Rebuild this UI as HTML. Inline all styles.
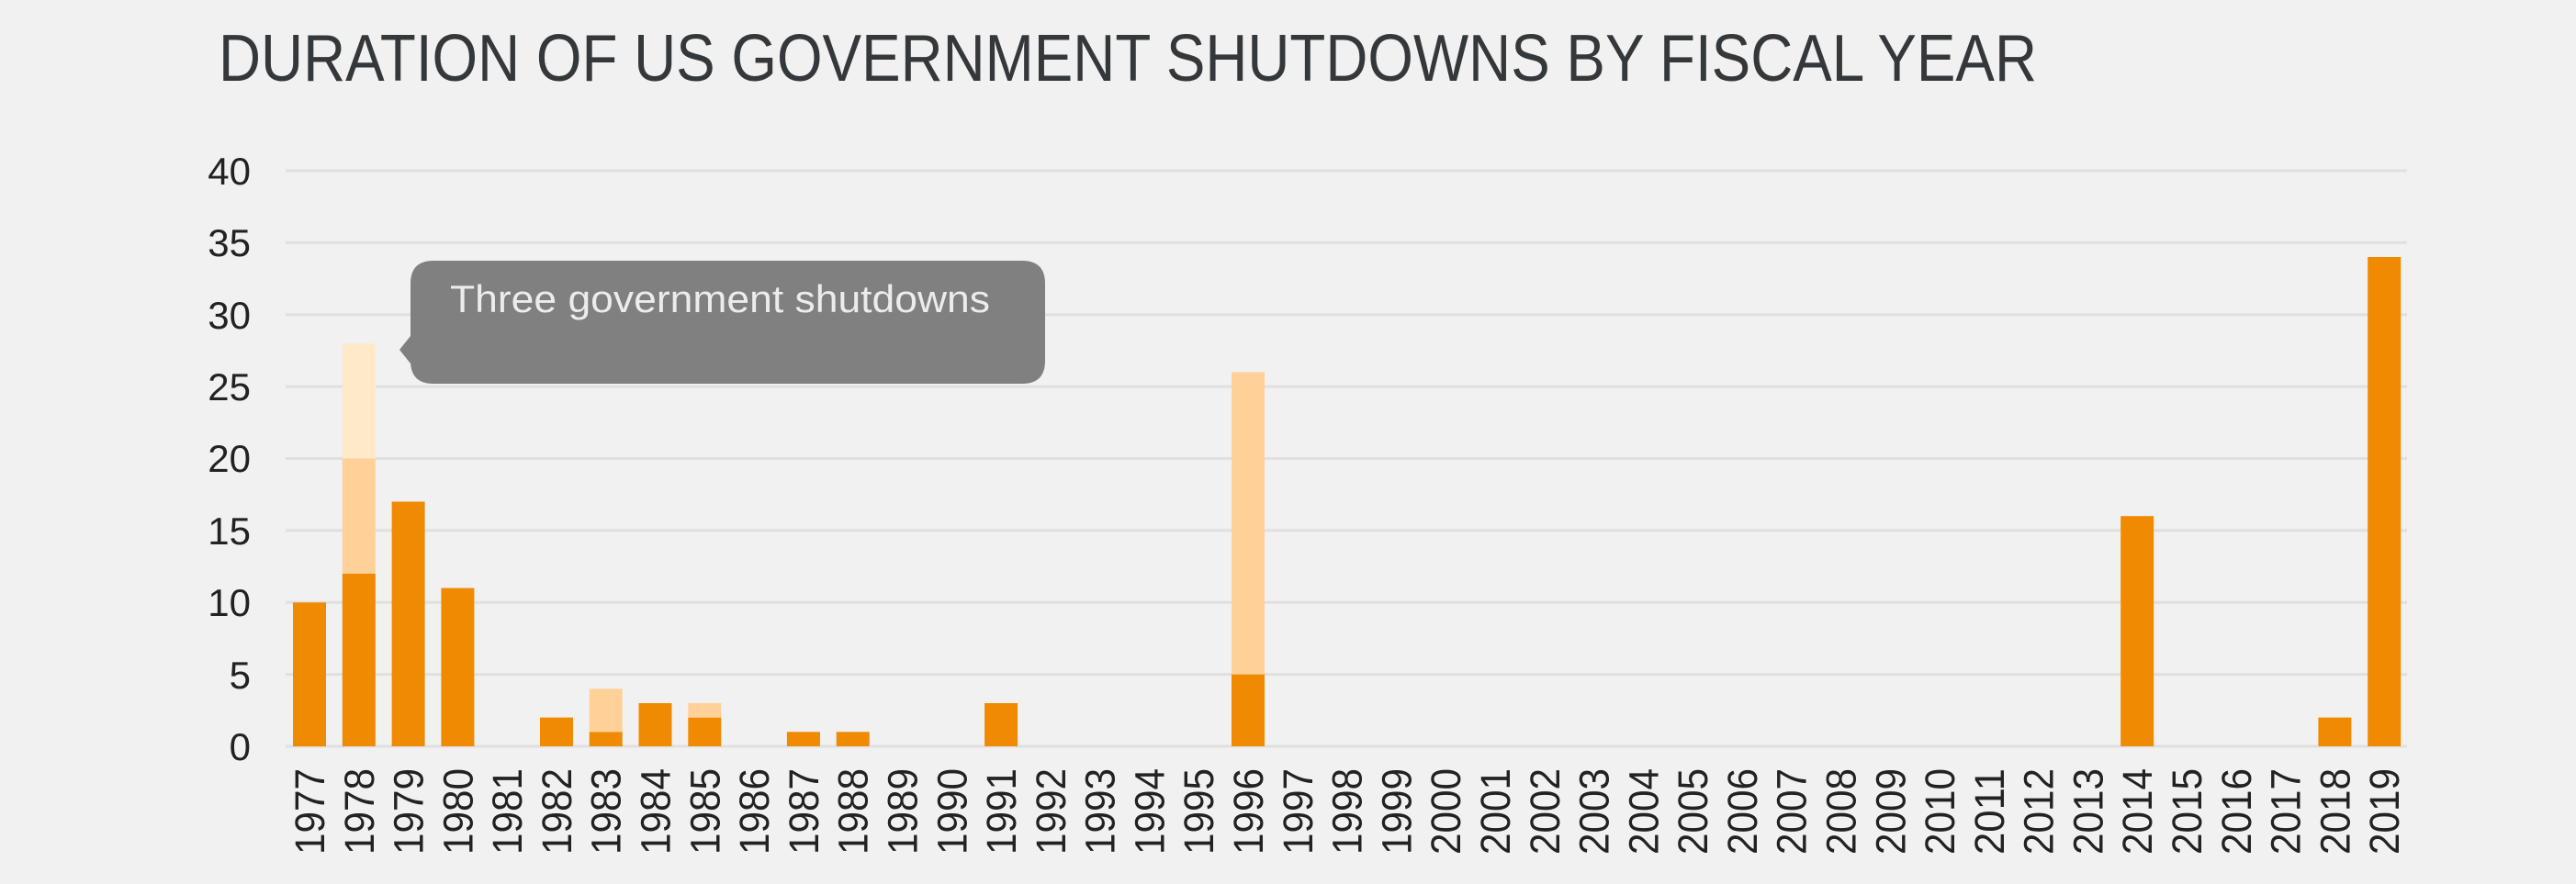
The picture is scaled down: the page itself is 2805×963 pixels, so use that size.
<!DOCTYPE html>
<html><head><meta charset="utf-8"><style>
html,body{margin:0;padding:0;background:#f1f1f1;}
svg{display:block;}
</style></head><body>
<svg width="2805" height="963" viewBox="0 0 2805 963" xmlns="http://www.w3.org/2000/svg">
<rect width="2805" height="963" fill="#f1f1f1"/>
<text x="238" y="88" font-family="Liberation Sans, sans-serif" font-size="72" fill="#35383b" textLength="1980" lengthAdjust="spacingAndGlyphs">DURATION OF US GOVERNMENT SHUTDOWNS BY FISCAL YEAR</text>
<g stroke="#e0e0e0" stroke-width="3">
<line x1="311" x2="2621" y1="186" y2="186"/>
<line x1="311" x2="2621" y1="264.4" y2="264.4"/>
<line x1="311" x2="2621" y1="342.8" y2="342.8"/>
<line x1="311" x2="2621" y1="421.1" y2="421.1"/>
<line x1="311" x2="2621" y1="499.5" y2="499.5"/>
<line x1="311" x2="2621" y1="577.9" y2="577.9"/>
<line x1="311" x2="2621" y1="656.3" y2="656.3"/>
<line x1="311" x2="2621" y1="734.6" y2="734.6"/>
<line x1="311" x2="2621" y1="813" y2="813"/>
</g>
<g font-family="Liberation Sans, sans-serif" font-size="42" fill="#222" text-anchor="end">
<text x="273" y="201">40</text>
<text x="273" y="279">35</text>
<text x="273" y="358">30</text>
<text x="273" y="436">25</text>
<text x="273" y="514">20</text>
<text x="273" y="593">15</text>
<text x="273" y="671">10</text>
<text x="273" y="750">5</text>
<text x="273" y="828">0</text>
</g>
<g id="bars"></g>
<g id="labels" font-family="Liberation Sans, sans-serif" font-size="45" fill="#222"></g>
<path d="M472,284 H1113 Q1138,284 1138,309 V393 Q1138,418 1113,418 H472 Q447,418 447,393 V396 L435,381 L447,366 V309 Q447,284 472,284 Z" fill="#808080"/>
<text x="490" y="340" font-family="Liberation Sans, sans-serif" font-size="42" fill="#ececec" textLength="588" lengthAdjust="spacingAndGlyphs">Three government shutdowns</text>
<script>
var ns="http://www.w3.org/2000/svg";
var D="#f08a00",M="#ffd199",L="#ffe9c9";
var data={1977:[[10,D]],1978:[[12,D],[8,M],[8,L]],1979:[[17,D]],1980:[[11,D]],1982:[[2,D]],1983:[[1,D],[3,M]],1984:[[3,D]],1985:[[2,D],[1,M]],1987:[[1,D]],1988:[[1,D]],1991:[[3,D]],1996:[[5,D],[21,M]],2014:[[16,D]],2018:[[2,D]],2019:[[34,D]]};
var bars=document.getElementById("bars"),labels=document.getElementById("labels");
var u=15.675,base=813;
for(var y=1977;y<=2019;y++){
 var x=319+(y-1977)*53.79;
 var segs=data[y]||[],acc=0;
 segs.forEach(function(s){
  var r=document.createElementNS(ns,"rect");
  r.setAttribute("x",x.toFixed(1));r.setAttribute("width","36");
  r.setAttribute("y",(base-(acc+s[0])*u).toFixed(1));r.setAttribute("height",(s[0]*u).toFixed(1));
  r.setAttribute("fill",s[1]);bars.appendChild(r);acc+=s[0];
 });
 var t=document.createElementNS(ns,"text");
 var cx=x+18+16;
 t.setAttribute("transform","translate("+cx.toFixed(1)+",931) rotate(-90)");
 t.setAttribute("textLength","94");t.setAttribute("lengthAdjust","spacingAndGlyphs");
 t.textContent=y;labels.appendChild(t);
}
</script>
</svg>
</body></html>
